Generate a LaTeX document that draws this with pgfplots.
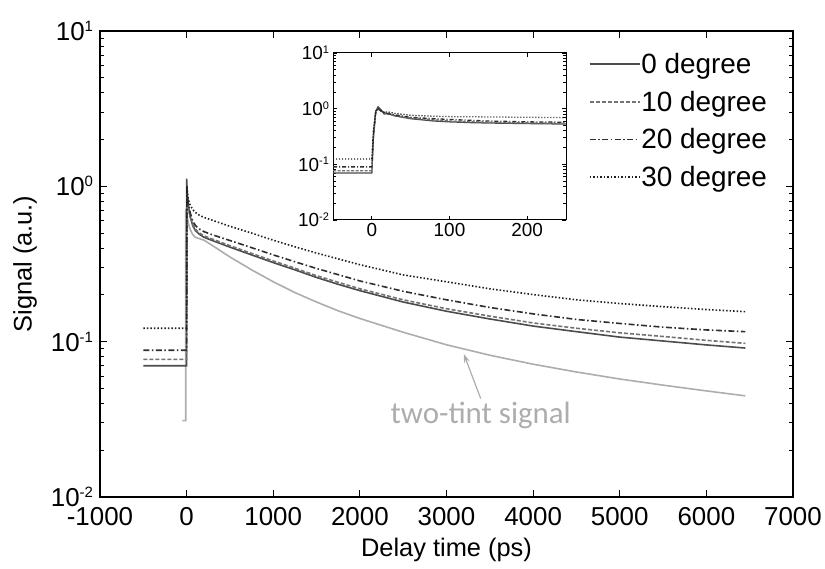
\documentclass[border=0pt]{standalone}
\usepackage{pgfplots}
\pgfplotsset{compat=1.18}
\usepackage{fontspec}
\setmainfont{Liberation Sans}
\newfontfamily\calibri{Carlito}
\usetikzlibrary{arrows.meta}

\definecolor{c0}{gray}{0.30}
\definecolor{c10}{gray}{0.45}
\definecolor{c20}{gray}{0.18}
\definecolor{c30}{gray}{0.12}
\definecolor{ctt}{gray}{0.68}

\newcommand{\ticksize}{\fontsize{26}{30}\selectfont}
\newcommand{\labsize}{\fontsize{25.5}{30}\selectfont}
\newcommand{\legsize}{\fontsize{28}{33}\selectfont}
\newcommand{\insize}{\fontsize{19}{22}\selectfont}

\begin{document}
\begin{tikzpicture}
\useasboundingbox (-100bp,-72bp) rectangle (725bp,497bp);
\begin{axis}[
  at={(0,0)}, anchor=south west,
  scale only axis, width=693bp, height=466bp,
  xmin=-1000, xmax=7000,
  ymode=log, ymin=0.01, ymax=10,
  xtick={-1000,0,1000,2000,3000,4000,5000,6000,7000},
  xticklabels={-1000,0,1000,2000,3000,4000,5000,6000,7000},
  ytick={0.01,0.1,1,10},
  yticklabels={10\textsuperscript{\fontsize{15}{15}\selectfont -2},10\textsuperscript{\fontsize{15}{15}\selectfont -1},10\textsuperscript{\fontsize{15}{15}\selectfont 0},10\textsuperscript{\fontsize{15}{15}\selectfont 1}},
  extra y ticks={0.02,0.03,0.04,0.05,0.06,0.07,0.08,0.09,0.2,0.3,0.4,0.5,0.6,0.7,0.8,0.9,2,3,4,5,6,7,8,9},
  extra y tick labels={},
  extra y tick style={major tick length=4bp},
  axis line style={line width=1.3bp},
  every tick/.style={black, line width=1bp},
  major tick length=7bp,
  tick label style={font=\ticksize},
  xticklabel style={yshift=-7bp},
  yticklabel style={xshift=-3bp},
  xlabel={Delay time (ps)}, ylabel={Signal (a.u.)},
  every axis x label/.style={at={(axis description cs:0.5,-0.114)}, anchor=center, font=\labsize},
  every axis y label/.style={at={(axis description cs:-0.108,0.5)}, anchor=center, rotate=90, font=\labsize},
  legend style={draw=none, fill=none, at={(0.705,0.955)}, anchor=north west, font=\legsize, row sep=14bp, inner sep=0pt, nodes={inner sep=1bp}},
  legend cell align=left,
  legend image code/.code={\draw[#1] (0bp,0bp) -- (50bp,0bp);},
  every axis plot/.append style={line width=1.6bp},
]
\addplot[ctt, forget plot] coordinates {(-50,0.031) (-10,0.031) (-10,0.7) (0,0.72) (10,0.62) (20,0.58) (40,0.53) (70,0.49) (100,0.47) (150,0.46) (200,0.45) (300,0.415) (500,0.351) (750,0.29) (1000,0.243) (1250,0.207) (1500,0.180) (1750,0.158) (2000,0.141) (2500,0.115) (3000,0.0955) (3500,0.0818) (4000,0.0716) (4500,0.0638) (5000,0.0575) (5500,0.0525) (6000,0.0482) (6450,0.0448)};
\addplot[c0, solid] coordinates {(-500,0.070) (0,0.07) (0,1.12) (10,0.85) (20,0.75) (40,0.64) (70,0.56) (100,0.52) (150,0.49) (200,0.47) (300,0.447) (500,0.406) (750,0.362) (1000,0.323) (1250,0.29) (1500,0.259) (1750,0.234) (2000,0.213) (2500,0.180) (3000,0.157) (3500,0.140) (4000,0.126) (4500,0.116) (5000,0.107) (5500,0.101) (6000,0.0953) (6450,0.091)};
\addlegendentry{0 degree}
\addplot[c10, dash pattern=on 4bp off 2bp] coordinates {(-500,0.077) (0,0.077) (3,0.9) (10,0.8) (20,0.72) (40,0.64) (70,0.57) (100,0.53) (150,0.5) (200,0.48) (300,0.457) (500,0.415) (750,0.37) (1000,0.331) (1250,0.297) (1500,0.266) (1750,0.241) (2000,0.219) (2500,0.186) (3000,0.163) (3500,0.146) (4000,0.132) (4500,0.122) (5000,0.114) (5500,0.108) (6000,0.102) (6450,0.0975)};
\addlegendentry{10 degree}
\addplot[c20, dash pattern=on 6bp off 2.5bp on 1.5bp off 2.5bp] coordinates {(-500,0.088) (0,0.088) (3,0.95) (10,0.85) (20,0.77) (40,0.68) (70,0.6) (100,0.56) (150,0.53) (200,0.511) (300,0.487) (500,0.448) (750,0.403) (1000,0.362) (1250,0.327) (1500,0.296) (1750,0.27) (2000,0.246) (2500,0.211) (3000,0.186) (3500,0.166) (4000,0.151) (4500,0.139) (5000,0.131) (5500,0.124) (6000,0.119) (6450,0.116)};
\addlegendentry{20 degree}
\addplot[c30, dash pattern=on 1.5bp off 2bp] coordinates {(-500,0.122) (0,0.122) (3,1.0) (10,0.9) (20,0.82) (40,0.76) (70,0.71) (100,0.68) (150,0.65) (200,0.631) (300,0.604) (500,0.553) (750,0.5) (1000,0.45) (1250,0.408) (1500,0.372) (1750,0.341) (2000,0.313) (2500,0.269) (3000,0.243) (3500,0.219) (4000,0.201) (4500,0.186) (5000,0.176) (5500,0.168) (6000,0.161) (6450,0.156)};
\addlegendentry{30 degree}
\draw[ctt, line width=1.2bp, -{Stealth[length=9bp, width=6bp]}] (axis cs:3395,0.043) -- (axis cs:3199,0.0835);
\node[ctt, font=\calibri\fontsize{31}{36}\selectfont] at (axis cs:3395,0.0335) {two-tint signal};
\end{axis}

\begin{axis}[
  at={(233bp,277bp)}, anchor=south west,
  scale only axis, width=233bp, height=167bp,
  xmin=-50, xmax=250,
  ymode=log, ymin=0.01, ymax=10,
  xtick={0,100,200},
  ytick={0.01,0.1,1,10},
  yticklabels={10\textsuperscript{\fontsize{11}{11}\selectfont -2},10\textsuperscript{\fontsize{11}{11}\selectfont -1},10\textsuperscript{\fontsize{11}{11}\selectfont 0},10\textsuperscript{\fontsize{11}{11}\selectfont 1}},
  minor ytick={},
  axis background/.style={fill=white},
  axis line style={line width=1bp},
  every tick/.style={black, line width=0.8bp},
  major tick length=4bp,
  tick label style={font=\insize},
  xticklabel style={/pgf/number format/assume math mode=true},
  every axis plot/.append style={line width=1.3bp},
]
\addplot[c0, solid] coordinates {(-50,0.07) (0,0.07) (2,0.3) (5,0.9) (8,1.08) (12,0.95) (16,0.8) (20,0.82) (25,0.78) (30,0.74) (40,0.7) (50,0.66) (60,0.64) (80,0.6) (100,0.58) (130,0.56) (160,0.55) (200,0.54) (250,0.53)};
\addplot[c10, dash pattern=on 3bp off 1.5bp] coordinates {(-50,0.077) (0,0.077) (2,0.3) (5,0.85) (8,1.02) (12,0.9) (20,0.8) (30,0.75) (50,0.68) (100,0.6) (150,0.57) (200,0.555) (250,0.545)};
\addplot[c20, dash pattern=on 4bp off 2bp on 1bp off 2bp] coordinates {(-50,0.09) (0,0.09) (2,0.35) (5,0.85) (8,1.0) (12,0.9) (20,0.82) (30,0.77) (50,0.7) (80,0.66) (100,0.64) (150,0.6) (200,0.58) (250,0.57)};
\addplot[c30, dash pattern=on 1.2bp off 1.8bp] coordinates {(-50,0.125) (0,0.125) (2,0.4) (5,0.9) (8,1.0) (12,0.92) (16,0.85) (20,0.88) (30,0.82) (50,0.76) (80,0.73) (100,0.72) (150,0.71) (200,0.7) (250,0.69)};
\end{axis}
\end{tikzpicture}
\end{document}
